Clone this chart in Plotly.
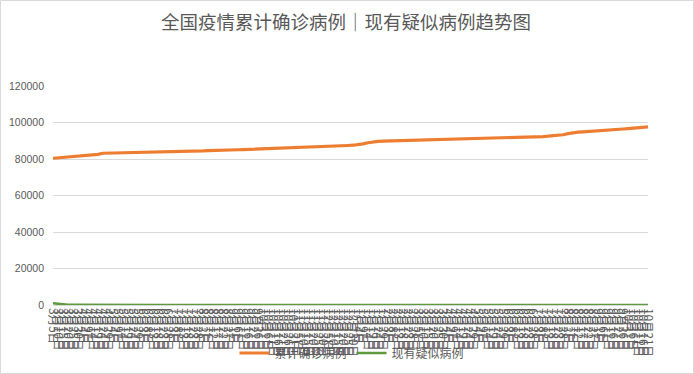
import plotly.graph_objects as go

dates = [
    "3月5日", "3月10日", "3月15日", "3月20日", "3月25日", "3月30日",
    "4月4日", "4月9日", "4月14日", "4月19日", "4月24日", "4月29日",
    "5月4日", "5月9日", "5月14日", "5月19日", "5月24日", "5月29日",
    "6月3日", "6月8日", "6月13日", "6月18日", "6月23日", "6月28日",
    "7月3日", "7月8日", "7月13日", "7月18日", "7月23日", "7月28日",
    "8月2日", "8月7日", "8月12日", "8月17日", "8月22日", "8月27日",
    "9月1日", "9月6日", "9月11日", "9月16日", "9月21日", "9月26日",
    "10月1日", "10月6日", "10月11日", "10月16日", "10月21日", "10月26日", "10月31日",
    "11月5日", "11月10日", "11月15日", "11月20日", "11月25日", "11月30日",
    "12月5日", "12月10日", "12月15日", "12月20日", "12月25日", "12月30日",
    "1月4日", "1月9日", "1月14日", "1月19日", "1月24日", "1月29日",
    "2月3日", "2月8日", "2月13日", "2月18日", "2月23日", "2月28日",
    "3月5日 ", "3月10日 ", "3月15日 ", "3月20日 ", "3月25日 ", "3月30日 ",
    "4月4日 ", "4月9日 ", "4月14日 ", "4月19日 ", "4月24日 ", "4月29日 ",
    "5月4日 ", "5月9日 ", "5月14日 ", "5月19日 ", "5月24日 ", "5月29日 ",
    "6月3日 ", "6月8日 ", "6月13日 ", "6月18日 ", "6月23日 ", "6月28日 ",
    "7月3日 ", "7月8日 ", "7月13日 ", "7月18日 ", "7月23日 ", "7月28日 ",
    "8月2日 ", "8月7日 ", "8月12日 ", "8月17日 ", "8月22日 ", "8月27日 ",
    "9月1日 ", "9月6日 ", "9月11日 ", "9月16日 ", "9月21日 ", "9月26日 ",
    "10月1日 ", "10月6日 ", "10月11日 ", "10月16日 ", "10月21日 ",
]

confirmed = [
    80400, 80650, 80850, 81050, 81250, 81500, 81700, 81950, 82250, 82550,
    83150, 83200, 83250, 83300, 83350, 83380, 83400, 83420, 83450, 83480,
    83520, 83560, 83600, 83650, 83700, 83750, 83800, 83900, 84000, 84200,
    84400, 84550, 84700, 84800, 84900, 84950, 85000, 85080, 85160, 85250,
    85350, 85450, 85560, 85670, 85780, 85890, 86000, 86100, 86200, 86300,
    86400, 86500, 86600, 86700, 86800, 86900, 87000, 87100, 87250, 87400,
    87550, 87800, 88300, 88900, 89350, 89650, 89750, 89820, 89880, 89940,
    90000, 90060, 90120, 90180, 90240, 90300, 90370, 90440, 90510, 90580,
    90650, 90720, 90790, 90860, 90930, 91000, 91080, 91160, 91240, 91320,
    91400, 91500, 91600, 91700, 91800, 91900, 92000, 92150, 92300, 92500,
    92700, 92900, 93300, 93900, 94400, 94700, 94850, 95000, 95150, 95350,
    95650, 95850, 96050, 96250, 96450, 96650, 96850, 97050, 97300, 97650,
]

suspected = [
    900, 520, 285, 130, 105, 120, 150, 120, 80, 70,
    40, 15, 10, 8, 5, 4, 3, 3, 5, 8,
    10, 6, 4, 3, 3, 2, 4, 6, 5, 4,
    3, 2, 2, 3, 2, 1, 2, 3, 2, 2,
    1, 2, 3, 2, 1, 1, 2, 3, 4, 3,
    2, 3, 4, 5, 4, 3, 4, 6, 8, 10,
    12, 14, 10, 8, 6, 5, 4, 3, 2, 2,
    1, 1, 2, 2, 1, 1, 2, 1, 1, 2,
    3, 2, 1, 1, 2, 2, 1, 2, 3, 2,
    2, 1, 1, 2, 3, 4, 3, 2, 2, 3,
    4, 6, 8, 7, 5, 4, 3, 3, 2, 2,
    3, 2, 2, 3, 4, 5, 6, 5, 4, 3,
]

series_names = ["累计确诊病例", "现有疑似病例"]
title_text = "全国疫情累计确诊病例｜现有疑似病例趋势图"
y_ticks = [0, 20000, 40000, 60000, 80000, 100000, 120000]

GRAY = "#595959"
GRID = "#d9d9d9"
FONT = "'Liberation Sans', 'Noto Sans CJK SC', sans-serif"
CJK = "'Noto Sans CJK SC', sans-serif"

fig = go.Figure()
fig.add_trace(go.Scatter(x=dates, y=confirmed, mode="lines", name=series_names[0],
                         line=dict(color="#ED7D31", width=3.2)))
fig.add_trace(go.Scatter(x=dates, y=suspected, mode="lines", name=series_names[1],
                         line=dict(color="#5E9A3C", width=2.5)))

L, R, T, B = 53, 46, 86, 69
W, H = 694, 374
pw, ph = W - L - R, H - T - B

fig.update_layout(
    width=W, height=H, autosize=False,
    margin=dict(l=L, r=R, t=T, b=B),
    paper_bgcolor="white", plot_bgcolor="white",
    font=dict(family=FONT, color=GRAY),
    title=dict(text=title_text, x=346 / W, xref="container", xanchor="center",
               y=1 - 23 / H, yref="container", yanchor="middle",
               font=dict(size=18.5, color=GRAY, family=CJK)),
    showlegend=True,
    legend=dict(orientation="h", x=(352 / W), xref="container", xanchor="center",
                y=1 - 353 / H, yref="container", yanchor="middle",
                font=dict(size=12, color=GRAY, family=CJK),
                bgcolor="rgba(0,0,0,0)", itemwidth=30),
    xaxis=dict(type="category", range=[0, len(dates) - 1],
               tickmode="array", tickvals=dates, ticktext=[d.strip() for d in dates],
               tickangle=90, tickfont=dict(size=11.5, color=GRAY, family=CJK),
               showgrid=False, showline=True, linecolor=GRID, linewidth=1,
               ticks="", automargin=False),
    yaxis=dict(range=[0, 120000], tickmode="array", tickvals=y_ticks,
               ticktext=[str(v) for v in y_ticks],
               tickfont=dict(size=10.5, color=GRAY),
               showgrid=True, gridcolor=GRID, gridwidth=1,
               zeroline=False, showline=False, ticks="",
               ticklabelstandoff=8, automargin=False),
    shapes=[dict(type="rect", xref="paper", yref="paper",
                 x0=(0.5 - L) / pw, x1=(W - 0.5 - L) / pw,
                 y0=(T + ph - (H - 0.5)) / ph, y1=(T + ph - 0.5) / ph,
                 line=dict(color=GRID, width=1), fillcolor="rgba(0,0,0,0)", layer="below")],
)

fig.write_html("out.html",
               config={"responsive": False, "displayModeBar": False},
               post_script="document.body.style.margin='0';document.body.style.overflow='hidden';")
